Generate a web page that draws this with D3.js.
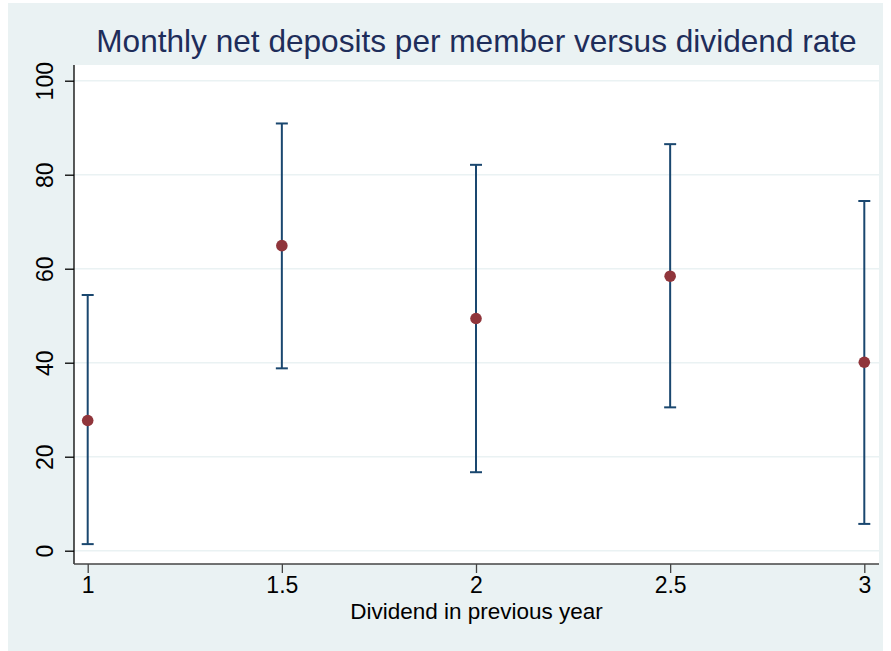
<!DOCTYPE html>
<html>
<head>
<meta charset="utf-8">
<script src="https://cdn.jsdelivr.net/npm/d3@7"></script>
<style>
  body { margin: 0; background: #ffffff; }
  text { font-family: "Liberation Sans", Arial, sans-serif; }
</style>
</head>
<body>
<div id="chart-area"></div>
<script>
// data
var dividends = [1, 1.5, 2, 2.5, 3];
var means     = [27.7, 64.9, 49.4, 58.4, 40.1];
var upper     = [54.4, 90.9, 82.1, 86.5, 74.4];
var lower     = [1.4, 38.8, 16.7, 30.5, 5.7];
var yTicks = [0, 20, 40, 60, 80, 100];
var xTicks = [1, 1.5, 2, 2.5, 3];

var width = 891, height = 651;
var plot = {left: 74, right: 879, top: 65, bottom: 564};

var svg = d3.select('#chart-area')
    .append('svg')
        .attr('width', width)
        .attr('height', height);

// outer graph region
svg.append('rect')
    .attr('x', 8).attr('y', 3)
    .attr('width', 875).attr('height', 648)
    .attr('fill', '#eaf2f3');

// plot region
svg.append('rect')
    .attr('x', plot.left).attr('y', plot.top)
    .attr('width', plot.right - plot.left).attr('height', plot.bottom - plot.top)
    .attr('fill', '#ffffff');

var x = d3.scaleLinear().domain([1, 3]).range([87.7, 864.3]);
var y = d3.scaleLinear().domain([0, 100]).range([550.7, 80.7]);

// gridlines
svg.append('g').selectAll('line')
    .data(yTicks)
    .enter().append('line')
        .attr('x1', plot.left).attr('x2', plot.right)
        .attr('y1', d => y(d)).attr('y2', d => y(d))
        .attr('stroke', '#eaf2f3')
        .attr('stroke-width', 1.5);

// left axis
var leftAxis = d3.axisLeft(y).tickValues(yTicks).tickSize(9).tickSizeOuter(0);
var gl = svg.append('g')
    .attr('class', 'left axis')
    .attr('transform', 'translate(' + plot.left + ',0)')
    .call(leftAxis);
gl.select('.domain').attr('d', 'M0,' + plot.top + 'V' + plot.bottom).attr('stroke', '#000').attr('stroke-width', 1.3);
gl.selectAll('.tick line').attr('stroke', '#000').attr('stroke-width', 1.3);
gl.selectAll('.tick text')
    .attr('font-size', '23px')
    .attr('fill', '#000')
    .attr('text-anchor', 'middle')
    .attr('x', 0)
    .attr('y', 0)
    .attr('dy', '0.35em')
    .attr('transform', 'translate(-29,0) rotate(-90)');

// bottom axis
var bottomAxis = d3.axisBottom(x).tickValues(xTicks).tickSize(9).tickPadding(4).tickSizeOuter(0)
    .tickFormat(d => String(d));
var gb = svg.append('g')
    .attr('class', 'bottom axis')
    .attr('transform', 'translate(0,' + plot.bottom + ')')
    .call(bottomAxis);
gb.select('.domain').attr('d', 'M' + plot.left + ',0H' + plot.right).attr('stroke', '#444').attr('stroke-width', 1.3);
gb.selectAll('.tick line').attr('stroke', '#444').attr('stroke-width', 1.3);
gb.selectAll('.tick text').attr('font-size', '23px').attr('fill', '#000');

// axis title
svg.append('text')
    .attr('x', (plot.left + plot.right) / 2)
    .attr('y', 619)
    .attr('text-anchor', 'middle')
    .attr('font-size', '22.5px')
    .attr('fill', '#000')
    .text('Dividend in previous year');

// chart title
svg.append('text')
    .attr('x', (plot.left + plot.right) / 2)
    .attr('y', 52)
    .attr('text-anchor', 'middle')
    .attr('font-size', '31.6px')
    .attr('fill', '#1e2d5a')
    .text('Monthly net deposits per member versus dividend rate');

// error bars
var bars = svg.append('g').selectAll('g')
    .data(dividends)
    .enter().append('g');
bars.append('line')
    .attr('x1', d => x(d)).attr('x2', d => x(d))
    .attr('y1', (d, i) => y(lower[i])).attr('y2', (d, i) => y(upper[i]))
    .attr('stroke', '#1a476f').attr('stroke-width', 2);
bars.append('line')
    .attr('x1', d => x(d) - 6).attr('x2', d => x(d) + 6)
    .attr('y1', (d, i) => y(upper[i])).attr('y2', (d, i) => y(upper[i]))
    .attr('stroke', '#1a476f').attr('stroke-width', 2);
bars.append('line')
    .attr('x1', d => x(d) - 6).attr('x2', d => x(d) + 6)
    .attr('y1', (d, i) => y(lower[i])).attr('y2', (d, i) => y(lower[i]))
    .attr('stroke', '#1a476f').attr('stroke-width', 2);

// means
svg.append('g').selectAll('circle')
    .data(dividends)
    .enter().append('circle')
        .attr('cx', d => x(d))
        .attr('cy', (d, i) => y(means[i]))
        .attr('r', 5.8)
        .attr('fill', '#90353b');
</script>
</body>
</html>
